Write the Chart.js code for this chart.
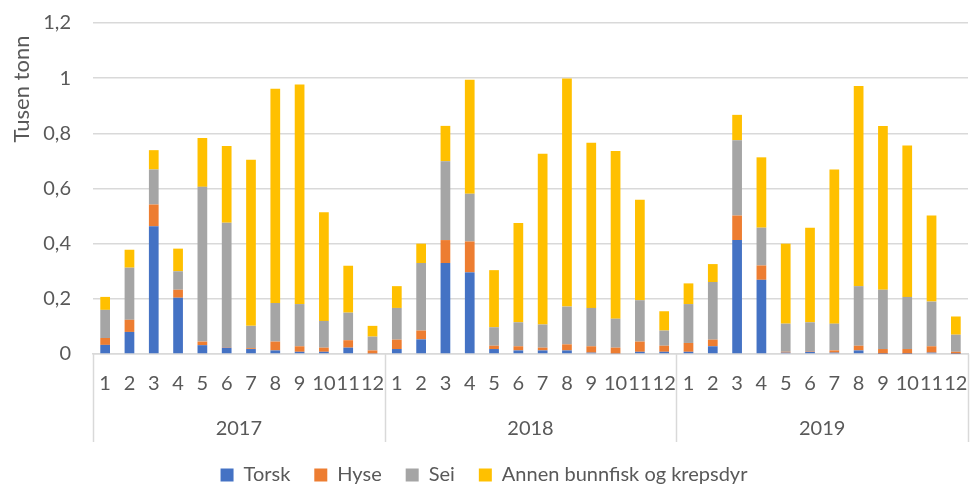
<!DOCTYPE html>
<html>
<head>
<meta charset="utf-8">
<script src="https://cdn.jsdelivr.net/npm/chart.js@4"></script>
<style>
  html, body { margin: 0; padding: 0; background: #fff; }
  #wrap { width: 971px; height: 486px; }
</style>
</head>
<body>
<div id="wrap"><canvas id="catchChart" width="971" height="486"></canvas></div>
<script>
const years = ["2017", "2018", "2019"];
const months = ["1", "2", "3", "4", "5", "6", "7", "8", "9", "10", "11", "12"];
const yTicks = [0, 0.2, 0.4, 0.6, 0.8, 1, 1.2];

const torsk = [
  0.033, 0.08, 0.463, 0.204, 0.032, 0.023, 0.018, 0.013, 0.008, 0.008, 0.023, 0.002,
  0.018, 0.053, 0.33, 0.296, 0.018, 0.013, 0.013, 0.013, 0.005, 0.002, 0.008, 0.008,
  0.008, 0.028, 0.413, 0.269, 0.005, 0.008, 0.005, 0.013, 0.001, 0.001, 0.005, 0.001,
];
const hyse = [
  0.025, 0.044, 0.079, 0.029, 0.013, 0.002, 0.003, 0.032, 0.02, 0.015, 0.027, 0.011,
  0.034, 0.032, 0.083, 0.112, 0.012, 0.015, 0.01, 0.022, 0.023, 0.021, 0.037, 0.022,
  0.032, 0.024, 0.089, 0.052, 0.003, 0.002, 0.008, 0.017, 0.017, 0.017, 0.023, 0.007,
];
const sei = [
  0.102, 0.189, 0.127, 0.067, 0.561, 0.451, 0.081, 0.14, 0.153, 0.097, 0.1, 0.05,
  0.115, 0.245, 0.286, 0.173, 0.067, 0.087, 0.084, 0.137, 0.139, 0.105, 0.15, 0.055,
  0.141, 0.209, 0.273, 0.137, 0.102, 0.105, 0.097, 0.216, 0.215, 0.189, 0.162, 0.062,
];
const annen = [
  0.047, 0.065, 0.07, 0.082, 0.177, 0.278, 0.602, 0.777, 0.796, 0.394, 0.17, 0.039,
  0.079, 0.07, 0.128, 0.413, 0.207, 0.36, 0.619, 0.827, 0.599, 0.608, 0.364, 0.07,
  0.075, 0.065, 0.092, 0.255, 0.29, 0.343, 0.559, 0.726, 0.594, 0.549, 0.312, 0.066,
];

const labels = years.flatMap(() => months);
const textColor = "#595959";
const gridColor = "#d9d9d9";
const font = "Lato, 'Open Sans', sans-serif";

// year row + separators under the month labels, and the y title
const extras = {
  id: "extras",
  afterDraw(chart) {
    const { ctx, chartArea, scales } = chart;
    const x = scales.x;
    const n = months.length;
    const half = (x.getPixelForValue(1) - x.getPixelForValue(0)) / 2;
    ctx.save();
    ctx.strokeStyle = gridColor;
    ctx.lineWidth = 1.5;
    for (let i = 0; i <= years.length; i++) {
      const px = Math.round(x.getPixelForValue(i * n) - half) + 0.5;
      ctx.beginPath();
      ctx.moveTo(px, chartArea.bottom);
      ctx.lineTo(px, 442);
      ctx.stroke();
    }
    ctx.fillStyle = textColor;
    ctx.font = "20px " + font;
    ctx.textAlign = "center";
    ctx.textBaseline = "middle";
    years.forEach((y, i) => {
      const cx = (x.getPixelForValue(i * n) + x.getPixelForValue(i * n + n - 1)) / 2;
      ctx.fillText(y, cx, 429);
    });
    ctx.translate(22, 89);
    ctx.rotate(-Math.PI / 2);
    ctx.font = "22px " + font;
    ctx.fillText("Tusen tonn", 0, 0);
    ctx.restore();
  },
};

const series = [
  { label: "Torsk", data: torsk, color: "#4472c4" },
  { label: "Hyse", data: hyse, color: "#ed7d31" },
  { label: "Sei", data: sei, color: "#a5a5a5" },
  { label: "Annen bunnfisk og krepsdyr", data: annen, color: "#ffc000" },
];

new Chart(document.getElementById("catchChart"), {
  type: "bar",
  data: {
    labels: labels,
    datasets: series.map((s) => ({
      label: s.label,
      data: s.data,
      backgroundColor: s.color,
      borderWidth: 0,
      barPercentage: 0.4,
      categoryPercentage: 1,
    })),
  },
  options: {
    responsive: false,
    animation: false,
    layout: { padding: { top: 23, right: 3, left: 0, bottom: -9 } },
    plugins: {
      tooltip: { enabled: false },
      legend: {
        position: "bottom",
        labels: {
          color: textColor,
          font: { family: font, size: 20 },
          boxWidth: 13,
          boxHeight: 13,
          padding: 24,
        },
      },
    },
    scales: {
      x: {
        stacked: true,
        grid: { display: false, drawTicks: false },
        border: { color: gridColor, width: 1.5 },
        ticks: {
          autoSkip: false,
          maxRotation: 0,
          padding: 18,
          color: textColor,
          font: { family: font, size: 20 },
        },
        afterFit: (scale) => {
          scale.height = 87;
          scale.paddingLeft = 0;
          scale.paddingRight = 0;
        },
      },
      y: {
        stacked: true,
        min: 0,
        max: 1.2,
        afterBuildTicks: (scale) => { scale.ticks = yTicks.map((v) => ({ value: v })); },
        grid: { color: gridColor, lineWidth: 1.5, drawTicks: false },
        border: { display: false },
        ticks: {
          padding: 22,
          color: textColor,
          font: { family: font, size: 20 },
          callback: (v) => String(Math.round(v * 10) / 10).replace(".", ","),
        },
        afterFit: (scale) => {
          scale.width = 93;
          scale.paddingTop = 0;
          scale.paddingBottom = 0;
        },
      },
    },
  },
  plugins: [extras],
});
</script>
</body>
</html>
